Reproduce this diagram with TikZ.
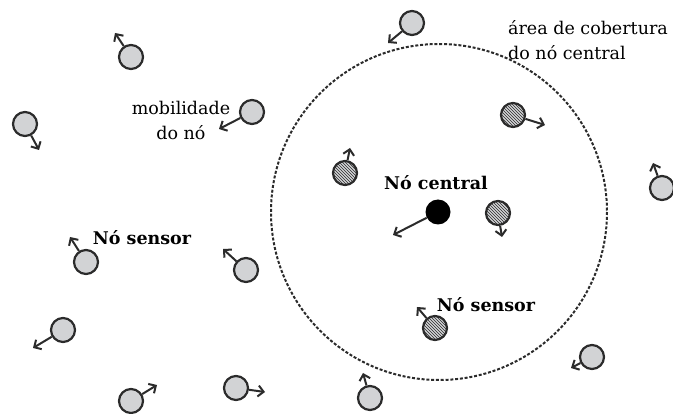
\documentclass[tikz,border=0pt]{standalone}
\usepackage{fontspec}
\setmainfont{DejaVu Serif}
\usetikzlibrary{arrows.meta,patterns}
\definecolor{nodefill}{HTML}{D2D3D5}
\definecolor{ink}{HTML}{2B2B2B}
\tikzset{
  sensor/.style={circle, draw=ink, line width=2.2pt, fill=nodefill, minimum size=24pt, inner sep=0pt},
  hatched/.style={circle, draw=ink, line width=2.2pt, minimum size=24pt, inner sep=0pt,
    preaction={fill=nodefill}, pattern=north west lines, pattern color=ink},
  hub/.style={circle, fill=black, minimum size=25pt, inner sep=0pt},
  move/.style={draw=ink, line width=2pt, -{Straight Barb[length=5.5pt,width=11pt,line width=2pt]}},
  lbl/.style={font=\fontsize{17.5}{25}\selectfont, text=black, inner sep=0pt},
  blbl/.style={font=\fontsize{17.5}{25}\selectfont\bfseries, text=black, inner sep=0pt}
}
\begin{document}
\begin{tikzpicture}[x=1pt,y=-1pt]
\useasboundingbox (0,0) rectangle (673,414);

% coverage area of the central node
\draw[ink, line width=2pt, dash pattern=on 3pt off 1.8pt] (439,212) circle[radius=168];

% grey sensor nodes outside the coverage area
\foreach \n/\x/\y/\tx/\ty in {
  g1/131/57/115/33, g2/252/112/219/129, g3/25/124/39/150, g4/412/23/388/43,
  g5/662/188/653/163, g6/86/262/70/237, g7/246/270/223/249, g8/63/330/33/348,
  g9/131/401/157/385, g10/236/388/265/392, g11/592/357/571/368, g12/370/398/363/373}{
  \node[sensor] (\n) at (\x,\y) {};
  \coordinate (\n t) at (\tx,\ty);
  \draw[move] (\n) -- (\n t);
}

% hatched sensor nodes inside the coverage area
\foreach \n/\x/\y/\tx/\ty in {
  h1/513/115/545/125, h2/345/173/350/148, h3/498/213/502/237, h4/435/328/417/307}{
  \node[hatched] (\n) at (\x,\y) {};
  \coordinate (\n t) at (\tx,\ty);
  \draw[move] (\n) -- (\n t);
}

% central node
\node[hub] (c) at (438,212) {};
\coordinate (ct) at (393,235);
\draw[move] (c) -- (ct);

% labels
\node[lbl, align=center] (mob) at (181,120) {mobilidade\\do nó};
\node[lbl, align=left, anchor=west] (area) at (508,40) {área de cobertura\\do nó central};
\node[blbl] (central) at (436,183) {Nó central};
\node[blbl] (sens1) at (142,238) {Nó sensor};
\node[blbl] (sens2) at (486,305) {Nó sensor};
\end{tikzpicture}
\end{document}
